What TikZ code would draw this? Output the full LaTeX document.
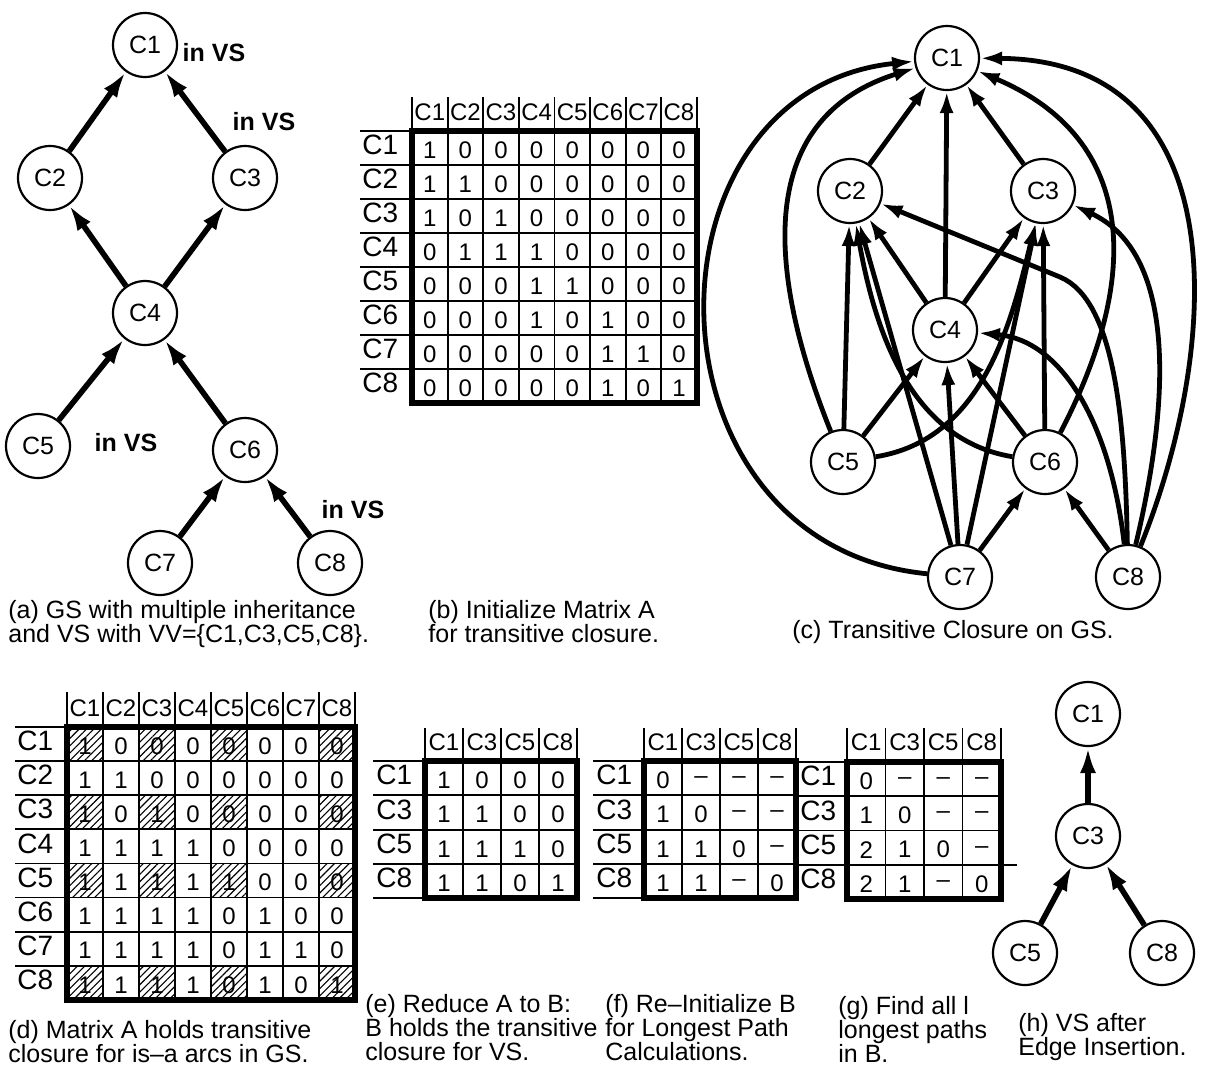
\documentclass[tikz,border=0pt]{standalone}
\usepackage{fontspec}
\setmainfont{Liberation Sans}
\usetikzlibrary{arrows.meta,patterns.meta}

\begin{document}
\begin{tikzpicture}[x=0.5pt,y=-0.5pt,>=Latex,
  cls/.style={draw,circle,line width=1.1pt,minimum size=32pt,inner sep=0pt,font=\fontsize{12.5}{14}\selectfont},
  isa/.style={-{Latex[length=13pt,width=8pt]},line width=2.8pt},
  tc/.style={-{Latex[length=11pt,width=7pt]},line width=2.4pt},
  invs/.style={font=\fontsize{12.5}{14}\selectfont\bfseries,inner sep=0pt},
  captxt/.style={anchor=north west,align=left,inner sep=0pt,font=\fontsize{12.5}{12}\selectfont},
  hdr/.style={inner sep=0pt,font=\fontsize{12}{12}\selectfont},
  lbl/.style={anchor=west,inner sep=0pt,font=\fontsize{14}{14}\selectfont},
  cell/.style={inner sep=0pt,font=\fontsize{12}{12}\selectfont},
  hatch/.style={pattern={Lines[angle=45,distance=2.6pt,line width=0.55pt]}},
  gline/.style={line width=0.9pt},
  rim/.style={line width=2.8pt}]
\useasboundingbox (0,0) rectangle (1206,1073);

% (a) GS
\node[cls] (a1) at (145,45) {C1};
\node[cls] (a2) at (50,178) {C2};
\node[cls] (a3) at (245,178) {C3};
\node[cls] (a4) at (145,313) {C4};
\node[cls] (a5) at (38,446) {C5};
\node[cls] (a6) at (245,450) {C6};
\node[cls] (a7) at (160,563) {C7};
\node[cls] (a8) at (330,563) {C8};
\draw[isa] (a2) -- (a1);
\draw[isa] (a3) -- (a1);
\draw[isa] (a4) -- (a2);
\draw[isa] (a4) -- (a3);
\draw[isa] (a5) -- (a4);
\draw[isa] (a6) -- (a4);
\draw[isa] (a7) -- (a6);
\draw[isa] (a8) -- (a6);
\node[invs] (av1) at (214,53) {in VS};
\node[invs] (av3) at (264,122) {in VS};
\node[invs] (av5) at (126,443) {in VS};
\node[invs] (av8) at (353,510) {in VS};
\node[captxt] (capa) at (8,600) {(a) GS with multiple inheritance\\and VS with VV=\{C1,C3,C5,C8\}.};

% (b) matrix A, initial
\foreach \i in {0,...,8} \draw[gline] ({412+35.6*\i},97) -- ({412+35.6*\i},403);
\foreach \j in {0,...,7} \draw[gline] (360,{131+34*\j}) -- (697,{131+34*\j});
\draw[rim] (412,131) rectangle (697,403);
\foreach \i in {1,...,8} {
  \node[hdr] (bh\i) at ({412+35.6*(\i-0.5)},112) {C\i};
  \node[lbl] (br\i) at (362,{131+34*(\i-0.5)-3}) {C\i};
}
\foreach \row [count=\j] in {{1,0,0,0,0,0,0,0},{1,1,0,0,0,0,0,0},{1,0,1,0,0,0,0,0},{0,1,1,1,0,0,0,0},
  {0,0,0,1,1,0,0,0},{0,0,0,1,0,1,0,0},{0,0,0,0,0,1,1,0},{0,0,0,0,0,1,0,1}} {
  \foreach \v [count=\i] in \row
    \node[cell] (bv\j-\i) at ({412+35.6*(\i-0.5)},{131+34*(\j-0.5)+2}) {\v};
}
\node[captxt] (capb) at (428,600) {(b) Initialize Matrix A\\for transitive closure.};

% (c) transitive closure
\node[cls] (c1) at (947,58) {C1};
\node[cls] (c2) at (850,191) {C2};
\node[cls] (c3) at (1043,191) {C3};
\node[cls] (c4) at (945,330) {C4};
\node[cls] (c5) at (843,462) {C5};
\node[cls] (c6) at (1045,462) {C6};
\node[cls] (c7) at (960,577) {C7};
\node[cls] (c8) at (1128,577) {C8};
\draw[tc] (c2) -- (c1);
\draw[tc] (c3) -- (c1);
\draw[tc] (c4) -- (c1);
\draw[tc] (c4) -- (c2);
\draw[tc] (c4) -- (c3);
\draw[tc] (c5) -- (c4);
\draw[tc] (c6) -- (c4);
\draw[tc] (c7) -- (c4);
\draw[tc] (c7) -- (c6);
\draw[tc] (c8) -- (c6);
\draw[tc] (c5) -- (c2);
\draw[tc] (c6) -- (c3);
\draw[tc] (c7) -- (c2);
\draw[tc] (c7) -- (c3);
\draw[tc] (c5) .. controls (770,280) and (750,120) .. (c1);
\draw[tc] (c7) .. controls (635,545) and (635,90) .. (c1);
\draw[tc] (c8) .. controls (1220,350) and (1240,60) .. (c1);
\draw[tc] (c6) .. controls (1140,280) and (1140,140) .. (c1);
\draw[tc] (c8) .. controls (1125,420) and (1115,300) .. (1060,277) -- (c2);
\draw[tc] (c8) .. controls (1175,380) and (1170,250) .. (c3);
\draw[tc] (c8) .. controls (1110,420) and (1060,340) .. (c4);
\draw[tc] (c5) .. controls (980,440) and (1010,330) .. (c3);
\draw[tc] (c6) .. controls (910,440) and (875,330) .. (c2);
\node[inner sep=0pt,font=\fontsize{12.5}{12}\selectfont] (capc) at (953,632) {(c) Transitive Closure on GS.};

% (d) matrix A, closed
\foreach \j in {1,3,5,8} \foreach \i in {1,3,5,8}
  \fill[hatch] ({67+36*(\i-1)},{727+34.1*(\j-1)}) rectangle ++(36,34.1);
\foreach \i in {0,...,8} \draw[gline] ({67+36*\i},692) -- ({67+36*\i},1000);
\foreach \j in {0,...,7} \draw[gline] (15,{727+34.1*\j}) -- (355,{727+34.1*\j});
\draw[rim] (67,727) rectangle (355,1000);
\foreach \i in {1,...,8} {
  \node[hdr] (dh\i) at ({67+36*(\i-0.5)},708) {C\i};
  \node[lbl] (dr\i) at (17,{727+34.1*(\i-0.5)-3}) {C\i};
}
\foreach \row [count=\j] in {{1,0,0,0,0,0,0,0},{1,1,0,0,0,0,0,0},{1,0,1,0,0,0,0,0},{1,1,1,1,0,0,0,0},
  {1,1,1,1,1,0,0,0},{1,1,1,1,0,1,0,0},{1,1,1,1,0,1,1,0},{1,1,1,1,0,1,0,1}} {
  \foreach \v [count=\i] in \row
    \node[cell] (dv\j-\i) at ({67+36*(\i-0.5)},{727+34.1*(\j-0.5)+2}) {\v};
}
\node[captxt] (capd) at (8,1020) {(d) Matrix A holds transitive\\closure for is\textendash a arcs in GS.};

% (e) matrix B
\foreach \i in {0,...,4} \draw[gline] ({425+38*\i},728) -- ({425+38*\i},898);
\foreach \j in {0,...,4} \draw[gline] (373,{761+34.3*\j}) -- (577,{761+34.3*\j});
\draw[rim] (425,761) rectangle (577,898);
\foreach \n [count=\i] in {C1,C3,C5,C8} {
  \node[hdr] (eh\i) at ({425+38*(\i-0.5)},742) {\n};
  \node[lbl] (er\i) at (376,{761+34.3*(\i-0.5)-3}) {\n};
}
\foreach \row [count=\j] in {{1,0,0,0},{1,1,0,0},{1,1,1,0},{1,1,0,1}} {
  \foreach \v [count=\i] in \row
    \node[cell] (ev\j-\i) at ({425+38*(\i-0.5)},{761+34.3*(\j-0.5)+2}) {\v};
}
\node[captxt] (cape) at (365,994) {(e) Reduce A to B:\\B holds the transitive\\closure for VS.};

% (f) matrix B, re-initialized
\foreach \i in {0,...,4} \draw[gline] ({644+38*\i},728) -- ({644+38*\i},898);
\foreach \j in {0,...,4} \draw[gline] (593,{761+34.3*\j}) -- (796,{761+34.3*\j});
\draw[rim] (644,761) rectangle (796,898);
\foreach \n [count=\i] in {C1,C3,C5,C8} {
  \node[hdr] (fh\i) at ({644+38*(\i-0.5)},742) {\n};
  \node[lbl] (fr\i) at (596,{761+34.3*(\i-0.5)-3}) {\n};
}
\foreach \row [count=\j] in {{0,\textendash,\textendash,\textendash},{1,0,\textendash,\textendash},
  {1,1,0,\textendash},{1,1,\textendash,0}} {
  \foreach \v [count=\i] in \row
    \node[cell] (fv\j-\i) at ({644+38*(\i-0.5)},{761+34.3*(\j-0.5)+2}) {\v};
}
\node[captxt] (capf) at (605,994) {(f) Re\textendash Initialize B\\for Longest Path\\Calculations.};

% (g) longest paths
\foreach \i in {0,...,4} \draw[gline] ({847+38.5*\i},728) -- ({847+38.5*\i},899);
\foreach \j in {0,...,3} \draw[gline] (797,{762+34.25*\j}) -- (1001,{762+34.25*\j});
\draw[gline] (1001,864.75) -- (1017,864.75);
\draw[rim] (847,762) rectangle (1001,899);
\foreach \n [count=\i] in {C1,C3,C5,C8} {
  \node[hdr] (gh\i) at ({847+38.5*(\i-0.5)},742) {\n};
  \node[lbl] (gr\i) at (800,{762+34.25*(\i-0.5)-3}) {\n};
}
\foreach \row [count=\j] in {{0,\textendash,\textendash,\textendash},{1,0,\textendash,\textendash},
  {2,1,0,\textendash},{2,1,\textendash,0}} {
  \foreach \v [count=\i] in \row
    \node[cell] (gv\j-\i) at ({847+38.5*(\i-0.5)},{762+34.25*(\j-0.5)+2}) {\v};
}
\node[captxt] (capg) at (838,996) {(g) Find all l\\longest paths\\in B.};

% (h) VS
\node[cls] (h1) at (1088,714) {C1};
\node[cls] (h3) at (1088,836) {C3};
\node[cls] (h5) at (1025,953) {C5};
\node[cls] (h8) at (1162,953) {C8};
\draw[isa] (h3) -- (h1);
\draw[isa] (h5) -- (h3);
\draw[isa] (h8) -- (h3);
\node[captxt] (caph) at (1018,1013) {(h) VS after\\Edge Insertion.};
\end{tikzpicture}
\end{document}
